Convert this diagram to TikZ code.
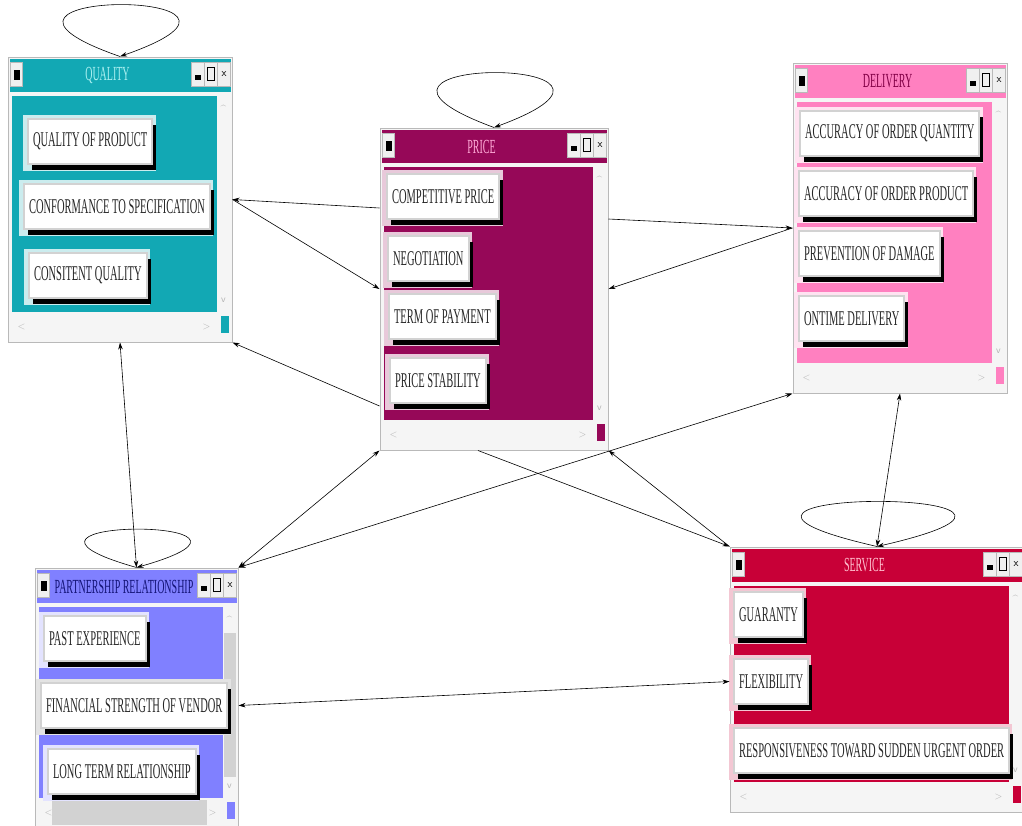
\documentclass[tikz,border=0pt]{standalone}
\usepackage{fontspec}
\usetikzlibrary{arrows.meta,calc,fit,shadows}
\newfontfamily\wfont[FakeStretch=0.5]{Liberation Serif}
\definecolor{qualitycol}{RGB}{18,168,180}
\definecolor{qualitytxt}{RGB}{170,240,240}
\definecolor{pricecol}{RGB}{150,8,88}
\definecolor{pricetxt}{RGB}{255,170,215}
\definecolor{deliverycol}{RGB}{255,128,192}
\definecolor{deliverytxt}{RGB}{130,0,70}
\definecolor{partnercol}{RGB}{128,128,255}
\definecolor{partnertxt}{RGB}{20,20,120}
\definecolor{servicecol}{RGB}{200,0,55}
\definecolor{servicetxt}{RGB}{255,190,205}
\newcommand\appwin[6]{%
  \coordinate (#1-nw) at (#2);
  \coordinate (#1-se) at (#3);
  \node [frame, fit=(#1-nw)(#1-se)] (#1) {};
  \fill [#4] ([shift={(2,2)}]#1.north west) rectangle ([shift={(-2,35)}]#1.north east);
  \draw [sysbox] ([shift={(3,6)}]#1.north west) rectangle +(12,24);
  \fill [black] ([shift={(6,13)}]#1.north west) rectangle +(6,10);
  \foreach \i in {41,28,15}
    \draw [sysbox] ([shift={(-\i,6)}]#1.north east) rectangle +(13,24);
  \fill [black] ([shift={(-38,18)}]#1.north east) rectangle +(6,5);
  \draw [black] ([shift={(-25,11)}]#1.north east) rectangle +(7,13);
  \node [font=\sffamily\fontsize{11}{11}\selectfont] (#1-x) at ([shift={(-8.5,18)}]#1.north east) {x};
  \node [wtitle, text=#5] (#1-title) at ([shift={(-12.5,19)}]#1.north) {#6};
  \fill [#4] ([shift={(4,39)}]#1.north west) rectangle ([shift={(-16,-31)}]#1.south east);
  \node [scrl] (#1-up) at ([shift={(-9,52)}]#1.north east) {\textasciicircum};
  \node [scrl] (#1-dn) at ([shift={(-9,-42)}]#1.south east) {v};
  \node [scrl] (#1-lt) at ([shift={(14,-16)}]#1.south west) {<};
  \node [scrl] (#1-rt) at ([shift={(-26,-16)}]#1.south east) {>};
  \fill [#4] ([shift={(-12,-27)}]#1.south east) rectangle +(8,17);
}
\newcommand\wbtn[4]{%
  \node [cell, fill=#3!22] (#1-cell) at ([shift={(-4,-3)}]#2) {\phantom{#4}};
  \node [btn] (#1) at (#2) {#4};
}
\begin{document}
\begin{tikzpicture}[x=1pt, y=-1pt,
    >={Stealth[length=7pt,width=4.5pt]},
    frame/.style={draw=gray!55, fill=gray!8, inner sep=0pt, line width=1pt},
    sysbox/.style={draw=gray!55, fill=gray!12},
    wtitle/.style={font=\wfont\fontsize{20}{20}\selectfont, inner sep=0pt},
    scrl/.style={font=\sffamily\fontsize{10}{10}\selectfont, text=gray!60, inner sep=0pt},
    btn/.style={anchor=north west, draw=gray!35, line width=2pt, fill=white,
      font=\wfont\fontsize{21}{21}\selectfont, text=black!85,
      minimum height=45pt, inner xsep=5pt, inner ysep=0pt,
      drop shadow={shadow xshift=4pt, shadow yshift=-6pt, fill=black, opacity=1}},
    cell/.style={anchor=north west, font=\wfont\fontsize{21}{21}\selectfont,
      minimum height=56pt, inner xsep=9pt, inner ysep=0pt},
    link/.style={black, line width=0.6pt}]
\useasboundingbox (0,0) rectangle (1022,825);
\fill [white] (0,0) rectangle (1022,825);
\clip (0,0) rectangle (1022,825);

\appwin{quality}{8,57}{232,342}{qualitycol}{qualitytxt}{QUALITY}
\appwin{price}{380,128}{608,450}{pricecol}{pricetxt}{PRICE}
\appwin{delivery}{793,63}{1007,393}{deliverycol}{deliverytxt}{DELIVERY}
\appwin{partnership}{35,568}{238,828}{partnercol}{partnertxt}{PARTNERSHIP RELATIONSHIP}
\appwin{service}{730,547}{1024,812}{servicecol}{servicetxt}{SERVICE}
\fill [gray!35] (224,633) rectangle (236,777);
\fill [gray!35] (52,800) rectangle (207,825);

\wbtn{qp}{27,118}{qualitycol}{QUALITY OF PRODUCT}
\wbtn{cs}{23,183}{qualitycol}{CONFORMANCE TO SPECIFICATION}
\wbtn{cq}{28,252}{qualitycol}{CONSITENT QUALITY}

\wbtn{cp}{386,173}{pricecol}{COMPETITIVE PRICE}
\wbtn{ng}{387,235}{pricecol}{NEGOTIATION}
\wbtn{tp}{388,293}{pricecol}{TERM OF PAYMENT}
\wbtn{ps}{389,357}{pricecol}{PRICE STABILITY}

\wbtn{aq}{799,110}{deliverycol}{ACCURACY OF ORDER QUANTITY}
\wbtn{ap}{798,170}{deliverycol}{ACCURACY OF ORDER PRODUCT}
\wbtn{pd}{798,230}{deliverycol}{PREVENTION OF DAMAGE}
\wbtn{od}{798,295}{deliverycol}{ONTIME DELIVERY}

\wbtn{pe}{43,615}{partnercol}{PAST EXPERIENCE}
\wbtn{fs}{40,682}{gray}{FINANCIAL STRENGTH OF VENDOR}
\wbtn{ltr}{47,748}{partnercol}{LONG TERM RELATIONSHIP}

\wbtn{gu}{733,591}{servicecol}{GUARANTY}
\wbtn{fl}{733,658}{servicecol}{FLEXIBILITY}
\wbtn{rs}{733,727}{servicecol}{RESPONSIVENESS TOWARD SUDDEN URGENT ORDER}

\draw [link, ->] (quality.north) .. controls +(-198,-69) and +(198,-69) .. (quality.north);
\draw [link, ->] (price.north) .. controls +(-198,-73) and +(198,-73) .. (price.north);
\draw [link, ->] (partnership.north) .. controls +(-180,-51) and +(180,-51) .. (partnership.north);
\draw [link, ->] (service.north) .. controls +(-263,-60) and +(263,-60) .. (service.north);

\draw [link, ->] ([yshift=81pt]price.west) -- (quality.east);
\draw [link, ->] (quality.east) -- (price.west);
\draw [link, ->] ([yshift=-117pt]price.west) -- (quality.south east);
\draw [link, ->] ([yshift=70pt]price.east) -- (delivery.west);
\draw [link, ->] (delivery.west) -- (price.east);
\draw [link, <->] (quality.south) -- (partnership.north);
\draw [link, <->] (partnership.north east) -- (price.south west);
\draw [link, <->] (partnership.north east) -- (delivery.south west);
\draw [link, ->] ([xshift=-16pt]price.south) -- (service.north west);
\draw [link, ->] (service.north west) -- (price.south east);
\draw [link, <->] (service.north) -- (delivery.south);
\draw [link, <->] (partnership.east |- fs) -- (service.west |- fl);
\end{tikzpicture}
\end{document}
